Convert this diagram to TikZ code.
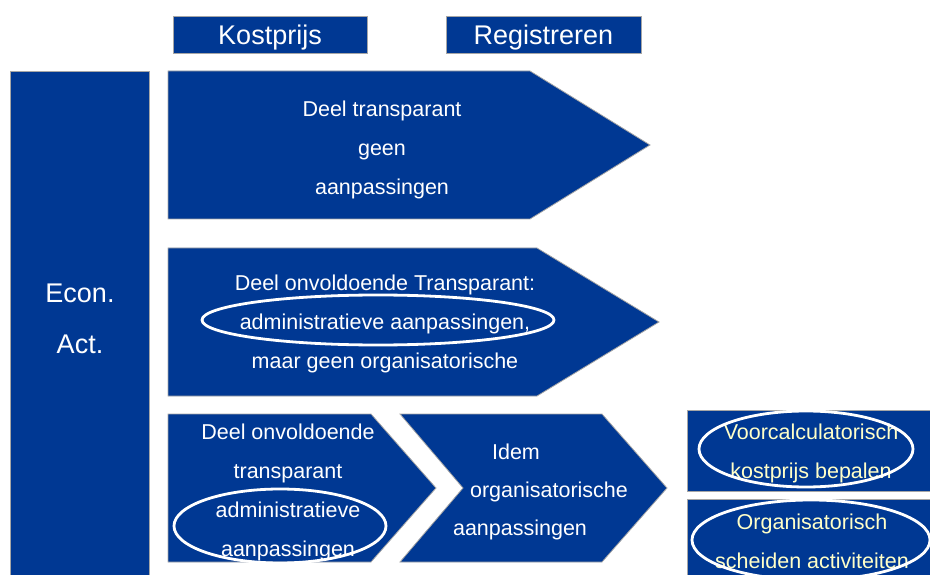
\documentclass[tikz,border=0pt]{standalone}
\usepackage{fontspec}
\setmainfont{Liberation Sans}
\definecolor{navy}{HTML}{003893}
\definecolor{paleyel}{HTML}{FFFFC8}
\begin{document}
\begin{tikzpicture}[x=1pt,y=-1pt]
        \tikzstyle{blok}=[fill=navy,draw=gray!70,line width=0.8pt]
        \tikzstyle{txt}=[text=white,align=center,inner sep=0pt,font=\fontsize{21.5}{39}\selectfont]
        \tikzstyle{kop}=[blok,text=white,inner sep=0pt,text depth=0pt,font=\fontsize{27}{32}\selectfont]
        \tikzstyle{geel}=[txt,text=paleyel]
        \tikzstyle{ring}=[draw=white,line width=2.8pt]
       \useasboundingbox (0,0) rectangle (930,575);
       \begin{scope}
         % kolomkoppen
         \node [kop,minimum width=194pt,minimum height=37pt] (kp) at (270,35) {Kostprijs};
         \node [kop,minimum width=195pt,minimum height=37pt] (reg) at (543.5,35) {Registreren};
         % blokken
         \draw [blok] (10,71) rectangle (149,580);
         \draw [blok] (168,71) -- (530,71) -- (650,145) -- (530,219) -- (168,219) -- cycle;
         \draw [blok] (168,248) -- (537,248) -- (659,322) -- (537,396) -- (168,396) -- cycle;
         \draw [blok] (168,414) -- (371,414) -- (436,488) -- (371,562) -- (168,562) -- cycle;
         \draw [blok] (400,414) -- (602,414) -- (667,488) -- (602,562) -- (400,562) -- (463,488) -- cycle;
         \draw [blok] (687,410) rectangle (935,491);
         \draw [blok] (687,499) rectangle (935,580);
         % teksten
         \node [txt,font=\fontsize{27}{51}\selectfont] (econ) at (80,319) {Econ.\\Act.};
         \node [txt] (t1) at (382,149.5) {Deel transparant\\geen\\aanpassingen};
         \node [txt] (t2) at (385,324) {Deel onvoldoende Transparant:\\administratieve aanpassingen,\\maar geen organisatorische};
         \node [txt] (t3) at (288,492) {Deel onvoldoende\\transparant\\administratieve\\aanpassingen};
         \node [txt] (i1) at (516,452) {Idem};
         \node [txt] (i2) at (549,492) {organisatorische};
         \node [txt] (i3) at (520,530) {aanpassingen};
         \node [geel] (v1) at (811,453.5) {Voorcalculatorisch\\kostprijs bepalen};
         \node [geel] (v2) at (812,541.5) {Organisatorisch\\scheiden activiteiten};
         % markeringen
         \draw [ring] (378,320) ellipse [x radius=176pt, y radius=25pt];
         \draw [ring] (280,526) ellipse [x radius=106pt, y radius=37pt];
         \draw [ring] (806,449) ellipse [x radius=107pt, y radius=38pt];
         \draw [ring] (811,540) ellipse [x radius=119pt, y radius=40pt];
        \end{scope}
      \end{tikzpicture}
\end{document}
